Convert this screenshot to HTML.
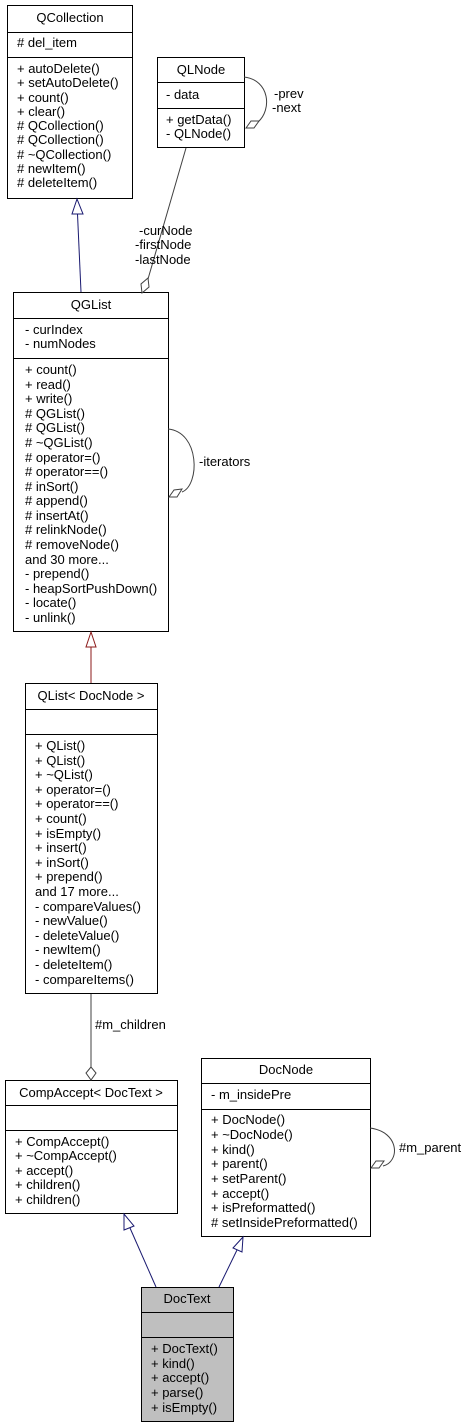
<!DOCTYPE html>
<html><head><meta charset="utf-8"><style>
html,body{margin:0;padding:0;background:#fff;}
svg{display:block;}
text{font-family:"Liberation Sans",sans-serif;font-size:13px;fill:#000;}
.c{text-anchor:middle;}
</style></head><body>
<svg width="465" height="1428" viewBox="0 0 465 1428" xmlns="http://www.w3.org/2000/svg">
<g fill="#fff" stroke="#000" stroke-width="1">
<rect x="7.5" y="5.5" width="125" height="193"/>
<line x1="7.5" y1="32.5" x2="132.5" y2="32.5"/><line x1="7.5" y1="57.5" x2="132.5" y2="57.5"/>
<rect x="157.5" y="57.5" width="87" height="90"/>
<line x1="157.5" y1="82.5" x2="244.5" y2="82.5"/><line x1="157.5" y1="108.5" x2="244.5" y2="108.5"/>
<rect x="13.5" y="292.5" width="155" height="339"/>
<line x1="13.5" y1="318.5" x2="168.5" y2="318.5"/><line x1="13.5" y1="358.5" x2="168.5" y2="358.5"/>
<rect x="25.5" y="683.5" width="132" height="310"/>
<line x1="25.5" y1="709.5" x2="157.5" y2="709.5"/><line x1="25.5" y1="734.5" x2="157.5" y2="734.5"/>
<rect x="5.5" y="1080.5" width="172" height="133"/>
<line x1="5.5" y1="1105.5" x2="177.5" y2="1105.5"/><line x1="5.5" y1="1130.5" x2="177.5" y2="1130.5"/>
<rect x="201.5" y="1058.5" width="169" height="178"/>
<line x1="201.5" y1="1083.5" x2="370.5" y2="1083.5"/><line x1="201.5" y1="1109.5" x2="370.5" y2="1109.5"/>
</g>
<g fill="#bfbfbf" stroke="#000">
<rect x="141.5" y="1287.5" width="92" height="134"/>
<line x1="141.5" y1="1312.5" x2="233.5" y2="1312.5"/><line x1="141.5" y1="1337.5" x2="233.5" y2="1337.5"/>
</g>

<g fill="none" stroke-width="1">
<path d="M81,292 L77.5,214" stroke="#191970"/>
<polygon points="77,199 72,214 83,214" fill="#fff" stroke="#191970"/>
<path d="M186,148 L148,279" stroke="#404040"/>
<polygon points="142,293 141,284 148,278 149,287" fill="#fff" stroke="#404040"/>
<path d="M244,77 C270,80 272,110 258,122" stroke="#404040"/>
<polygon points="246,128 251,121 259,121 254,128" fill="#fff" stroke="#404040"/>
<path d="M91,683 L91,647" stroke="#8b1a1a"/>
<polygon points="91,632 86,647 96,647" fill="#fff" stroke="#8b1a1a"/>
<path d="M168,429 C200,432 200,485 182,492" stroke="#404040"/>
<polygon points="169,497 174,490 182,489 177,497" fill="#fff" stroke="#404040"/>
<path d="M91,994 L91,1067" stroke="#404040"/>
<polygon points="91,1067 86,1073 91,1080 96,1073" fill="#fff" stroke="#404040"/>
<path d="M370,1128 C400,1132 400,1162 383,1166" stroke="#404040"/>
<polygon points="371,1168 376,1161 384,1161 379,1168" fill="#fff" stroke="#404040"/>
<path d="M156,1287 L130,1228" stroke="#191970"/>
<polygon points="124,1214 124,1230 134,1226" fill="#fff" stroke="#191970"/>
<path d="M219,1287 L237,1250" stroke="#191970"/>
<polygon points="243,1237 233,1248 242,1252" fill="#fff" stroke="#191970"/>
</g>

<text class="c" x="70" y="22">QCollection</text>
<text x="17" y="47"># del_item</text>
<text x="17" y="73">+ autoDelete()</text>
<text x="17" y="87">+ setAutoDelete()</text>
<text x="17" y="102">+ count()</text>
<text x="17" y="116">+ clear()</text>
<text x="17" y="130"># QCollection()</text>
<text x="17" y="144"># QCollection()</text>
<text x="17" y="159"># ~QCollection()</text>
<text x="17" y="173"># newItem()</text>
<text x="17" y="187"># deleteItem()</text>

<text class="c" x="201" y="74">QLNode</text>
<text x="166" y="99">- data</text>
<text x="166" y="124">+ getData()</text>
<text x="166" y="138">- QLNode()</text>
<text x="274" y="98">-prev</text>
<text x="272" y="112">-next</text>
<text x="139" y="235">-curNode</text>
<text x="135" y="249">-firstNode</text>
<text x="135" y="264">-lastNode</text>

<text class="c" x="91" y="309">QGList</text>
<text x="25" y="334">- curIndex</text>
<text x="25" y="348">- numNodes</text>
<text x="25" y="374">+ count()</text>
<text x="25" y="389">+ read()</text>
<text x="25" y="403">+ write()</text>
<text x="25" y="418"># QGList()</text>
<text x="25" y="432"># QGList()</text>
<text x="25" y="447"># ~QGList()</text>
<text x="25" y="462"># operator=()</text>
<text x="25" y="476"># operator==()</text>
<text x="25" y="491"># inSort()</text>
<text x="25" y="505"># append()</text>
<text x="25" y="520"># insertAt()</text>
<text x="25" y="534"># relinkNode()</text>
<text x="25" y="549"># removeNode()</text>
<text x="25" y="564">and 30 more...</text>
<text x="25" y="578">- prepend()</text>
<text x="25" y="593">- heapSortPushDown()</text>
<text x="25" y="607">- locate()</text>
<text x="25" y="622">- unlink()</text>
<text x="199" y="466">-iterators</text>

<text class="c" x="91" y="700">QList&lt; DocNode &gt;</text>
<text x="35" y="750">+ QList()</text>
<text x="35" y="765">+ QList()</text>
<text x="35" y="779">+ ~QList()</text>
<text x="35" y="794">+ operator=()</text>
<text x="35" y="808">+ operator==()</text>
<text x="35" y="823">+ count()</text>
<text x="35" y="838">+ isEmpty()</text>
<text x="35" y="852">+ insert()</text>
<text x="35" y="867">+ inSort()</text>
<text x="35" y="881">+ prepend()</text>
<text x="35" y="896">and 17 more...</text>
<text x="35" y="911">- compareValues()</text>
<text x="35" y="925">- newValue()</text>
<text x="35" y="940">- deleteValue()</text>
<text x="35" y="954">- newItem()</text>
<text x="35" y="969">- deleteItem()</text>
<text x="35" y="984">- compareItems()</text>
<text x="95" y="1029">#m_children</text>

<text class="c" x="91" y="1097">CompAccept&lt; DocText &gt;</text>
<text x="15" y="1146">+ CompAccept()</text>
<text x="15" y="1160">+ ~CompAccept()</text>
<text x="15" y="1175">+ accept()</text>
<text x="15" y="1189">+ children()</text>
<text x="15" y="1204">+ children()</text>

<text class="c" x="286" y="1074">DocNode</text>
<text x="211" y="1099">- m_insidePre</text>
<text x="211" y="1124">+ DocNode()</text>
<text x="211" y="1139">+ ~DocNode()</text>
<text x="211" y="1154">+ kind()</text>
<text x="211" y="1168">+ parent()</text>
<text x="211" y="1183">+ setParent()</text>
<text x="211" y="1198">+ accept()</text>
<text x="211" y="1212">+ isPreformatted()</text>
<text x="211" y="1227"># setInsidePreformatted()</text>
<text x="399" y="1152">#m_parent</text>

<text class="c" x="187" y="1303">DocText</text>
<text x="151" y="1353">+ DocText()</text>
<text x="151" y="1368">+ kind()</text>
<text x="151" y="1382">+ accept()</text>
<text x="151" y="1397">+ parse()</text>
<text x="151" y="1412">+ isEmpty()</text>
</svg>
</body></html>
